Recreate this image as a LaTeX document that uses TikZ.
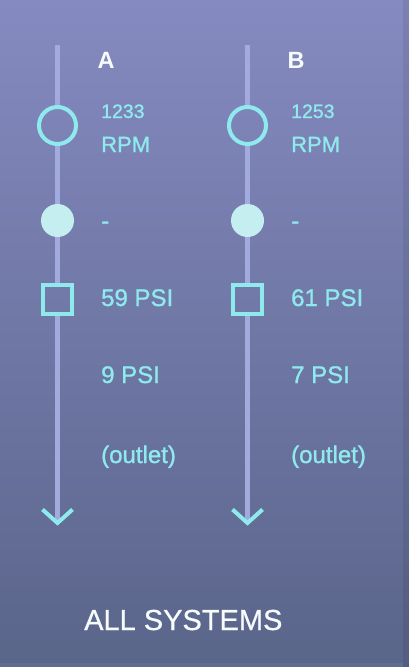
\documentclass[tikz,border=0pt]{standalone}
\usepackage{fontspec}
\setmainfont{Liberation Sans}
\newfontfamily\medfont{Liberation Sans}[FakeBold=1.2]
\newfontfamily\semifont{Liberation Sans}[FakeBold=0.6]
\definecolor{bgtop}{RGB}{133,138,192}
\definecolor{bgbot}{RGB}{90,101,138}
\definecolor{pipe}{RGB}{163,170,222}
\definecolor{aqua}{RGB}{142,234,236}
\definecolor{pale}{RGB}{196,238,240}
\definecolor{snow}{RGB}{246,252,252}
\tikzset{
  pipeline/.style={draw=pipe, line width=4.5pt},
  ring/.style={circle, draw=aqua, line width=4pt, minimum size=37pt, inner sep=0pt},
  dot/.style={circle, fill=pale, minimum size=33pt, inner sep=0pt},
  box/.style={rectangle, draw=aqua, line width=4pt, minimum size=29pt, inner sep=0pt},
  chev/.style={draw=aqua, line width=4pt, miter limit=10},
  head/.style={anchor=base west, inner sep=0pt, text=snow, font=\fontsize{23.5}{24}\selectfont\bfseries},
  small/.style={anchor=base west, inner sep=0pt, text=aqua, font=\fontsize{19.5}{20}\selectfont\medfont},
  val/.style={anchor=base west, inner sep=0pt, text=aqua, font=\fontsize{22}{22}\selectfont\medfont},
  big/.style={anchor=base west, inner sep=0pt, text=aqua, font=\fontsize{24}{24}\selectfont\medfont},
  title/.style={anchor=base west, inner sep=0pt, text=snow, font=\fontsize{29}{29}\selectfont\semifont},
}
\begin{document}
\begin{tikzpicture}[x=1pt,y=-1pt]
\useasboundingbox (0,0) rectangle (409,667);
\shade[top color=bgtop, bottom color=bgbot] (0,0) rectangle (409,667);
\fill[black, opacity=0.07] (403,0) rectangle (409,667);
\fill[white, opacity=0.05] (0,663) rectangle (403,667);

\foreach \n/\x/\lab/\rpm/\pa/\pb in {A/57.5/A/1233/59/9, B/247.5/B/1253/61/7}{
  \coordinate (top\n) at (\x,45);
  \node[ring] (ring\n) at (\x,125.5) {};
  \node[dot] (dot\n) at (\x,220.5) {};
  \node[box] (box\n) at (\x,299.3) {};
  \coordinate (end\n) at (\x,523);
  \draw[pipeline] (top\n) -- (ring\n);
  \draw[pipeline] (ring\n) -- (dot\n);
  \draw[pipeline] (dot\n) -- (box\n);
  \draw[pipeline] (box\n) -- (end\n);
  \draw[chev] ([shift={(-15,-13.5)}]end\n) -- (end\n) -- ([shift={(15,-13.5)}]end\n);
  \node[head] (lab\n) at (\x+40,68) {\lab};
  \node[small] (rpmv\n) at (\x+43.5,118) {\rpm};
  \node[val] (rpmu\n) at (\x+43.5,152) {RPM};
  \node[big] (dash\n) at (\x+43.5,229) {-};
  \node[big] (pa\n) at (\x+43.5,306) {\pa\ PSI};
  \node[big] (pb\n) at (\x+43.5,383) {\pb\ PSI};
  \node[big] (out\n) at (\x+43.5,463) {(outlet)};
}
\node[title] (all) at (84,630) {ALL SYSTEMS};
\end{tikzpicture}
\end{document}
